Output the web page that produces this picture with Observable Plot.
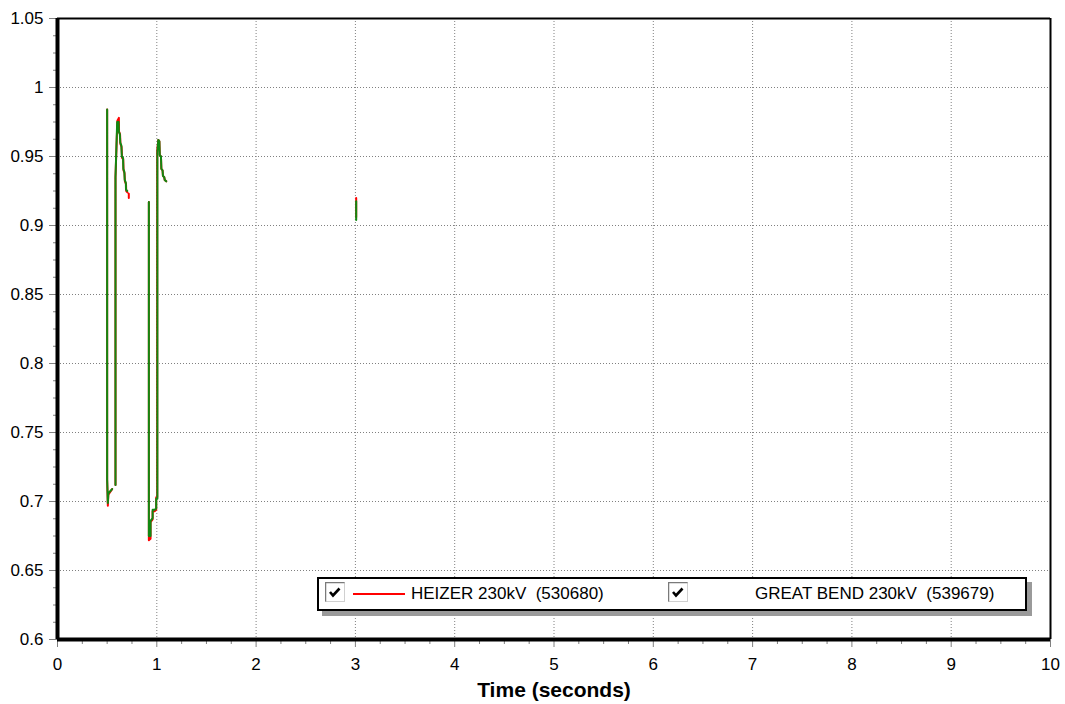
<!DOCTYPE html>
<html>
<head>
<meta charset="utf-8">
<script src="https://cdn.jsdelivr.net/npm/d3@7"></script>
<script src="https://cdn.jsdelivr.net/npm/@observablehq/plot@0.6"></script>
<style>
  body { margin: 0; background: #fff; font-family: "Liberation Sans", Arial, sans-serif; }
  #wrap { position: relative; width: 1065px; height: 704px; }
  #legend { position: absolute; left: 317px; top: 577px; width: 706px; height: 30px;
            border: 2px solid #000; background: #fff; box-shadow: 5px 5px 0 #9a9a9a; }
  .cb { position: absolute; top: 3px; width: 20px; height: 20px; }
  .sw { position: absolute; top: 14px; width: 52px; height: 2px; }
  .lt { position: absolute; top: 4px; font-size: 17px; line-height: 22px; white-space: pre; color: #000; }
</style>
</head>
<body>
<div id="wrap"></div>
<script>
// ---- tick definitions ----
const xTicks = [0, 1, 2, 3, 4, 5, 6, 7, 8, 9, 10];
const xTickLabels = ["0", "1", "2", "3", "4", "5", "6", "7", "8", "9", "10"];
const yTicks = [0.6, 0.65, 0.7, 0.75, 0.8, 0.85, 0.9, 0.95, 1, 1.05];
const yTickLabels = ["0.6", "0.65", "0.7", "0.75", "0.8", "0.85", "0.9", "0.95", "1", "1.05"];
const xMinorStep = 0.25;
const yMinorStep = 0.0125;

// ---- series ----
const seriesNames = ["HEIZER 230kV  (530680)", "GREAT BEND 230kV  (539679)"];
const seriesColors = ["#ff0000", "#118811"];
const xLabel = "Time (seconds)";

// HEIZER 230kV (red); NaN breaks the trace
const heizerTime = [
  0.500, 0.500, 0.507, 0.512, 0.550, 0.550,
  0.584, 0.584, 0.603, 0.618, 0.620, 0.630, 0.634, 0.645, 0.650, 0.662, 0.665, 0.675, 0.679, 0.690, 0.692, 0.704, 0.704,
  0.718, 0.718, 0.718,
  0.920, 0.920, 0.937, 0.937, 0.958, 0.958, 0.980, 0.994, 0.994, 1.004, 1.004, 1.015, 1.026, 1.030, 1.042, 1.046, 1.058, 1.062, 1.075, 1.080, 1.095, 1.095,
  3.008, 3.008
];
const heizerValue = [
  0.984, 0.716, 0.697, 0.705, 0.709, NaN,
  0.712, 0.935, 0.976, 0.978, 0.968, 0.966, 0.959, 0.957, 0.949, 0.948, 0.940, 0.938, 0.932, 0.930, 0.925, 0.924, NaN,
  0.923, 0.920, NaN,
  0.917, 0.672, 0.673, 0.685, 0.687, 0.693, 0.693, 0.694, 0.703, 0.703, 0.954, 0.962, 0.961, 0.951, 0.950, 0.941, 0.940, 0.936, 0.935, 0.933, 0.932, NaN,
  0.920, 0.906
];

// GREAT BEND 230kV (green)
const greatBendTime = [
  0.500, 0.500, 0.507, 0.512, 0.550, 0.550,
  0.584, 0.584, 0.601, 0.615, 0.618, 0.628, 0.632, 0.643, 0.648, 0.660, 0.663, 0.673, 0.677, 0.688, 0.690, 0.702, 0.702,
  0.920, 0.920, 0.937, 0.937, 0.958, 0.958, 0.980, 0.994, 0.994, 1.006, 1.006, 1.015, 1.026, 1.030, 1.042, 1.046, 1.058, 1.062, 1.075, 1.080, 1.095, 1.095,
  3.008, 3.008
];
const greatBendValue = [
  0.984, 0.716, 0.699, 0.706, 0.709, NaN,
  0.712, 0.935, 0.975, 0.975, 0.968, 0.966, 0.960, 0.958, 0.950, 0.949, 0.941, 0.939, 0.933, 0.931, 0.926, 0.925, NaN,
  0.917, 0.675, 0.675, 0.686, 0.688, 0.694, 0.694, 0.695, 0.702, 0.702, 0.953, 0.962, 0.961, 0.951, 0.950, 0.941, 0.940, 0.936, 0.935, 0.933, 0.932, NaN,
  0.9176, 0.904
];

// ---- build tables ----
const heizer = heizerTime.map((t, i) => ({ t, v: heizerValue[i] }));
const greatBend = greatBendTime.map((t, i) => ({ t, v: greatBendValue[i] }));

const xMinor = d3.range(0, 10 + 1e-9, xMinorStep).filter(d => Math.abs(d - Math.round(d)) > 1e-6);
const yMinor = d3.range(0.6, 1.05 + 1e-9, yMinorStep).filter(d => Math.abs(d * 20 - Math.round(d * 20)) > 1e-6);
const xGrid = xTicks.slice(1, -1);
const yGrid = yTicks.slice(1, -1);

const gridStyle = { stroke: "#808080", strokeWidth: 1, strokeDasharray: "1,2" };

const chart = Plot.plot({
  width: 1065,
  height: 704,
  marginLeft: 57,
  marginRight: 15,
  marginTop: 18,
  marginBottom: 65,
  x: { domain: [0, 10] },
  y: { domain: [0.6, 1.05] },
  style: { fontFamily: "'Liberation Sans', Arial, sans-serif", fontSize: "17px", color: "#000", background: "#fff" },
  marks: [
    Plot.ruleX(xGrid, { x: d => d, ...gridStyle }),
    Plot.ruleY(yGrid, { y: d => d, ...gridStyle }),
    // minor ticks
    Plot.axisX({ ticks: xMinor, tickSize: 5, stroke: "#808080", fill: "none", label: null }),
    Plot.axisY({ ticks: yMinor, tickSize: 4, stroke: "#808080", fill: "none", label: null }),
    // major ticks + labels
    Plot.axisX({ ticks: xTicks, tickSize: 8, tickPadding: 10, stroke: "#808080", fill: "#000", fontSize: 17,
                 tickFormat: d => xTickLabels[xTicks.indexOf(d)], label: null }),
    Plot.axisY({ ticks: yTicks, tickSize: 8, tickPadding: 6, stroke: "#808080", fill: "#000", fontSize: 17,
                 tickFormat: d => yTickLabels[yTicks.findIndex(v => Math.abs(v - d) < 1e-9)], label: null }),
    // data
    Plot.line(heizer, { x: "t", y: "v", stroke: seriesColors[0], strokeWidth: 2 }),
    Plot.line(greatBend, { x: "t", y: "v", stroke: seriesColors[1], strokeWidth: 2 }),
    // frame
    Plot.ruleY([1.05], { y: d => d, stroke: "#000", strokeWidth: 2 }),
    Plot.ruleX([10], { x: d => d, stroke: "#000", strokeWidth: 2 }),
    Plot.ruleX([0], { x: d => d, stroke: "#000", strokeWidth: 4 }),
    Plot.ruleY([0.6], { y: d => d, stroke: "#000", strokeWidth: 4 }),
    // x title
    Plot.text([xLabel], { text: d => d, frameAnchor: "bottom", lineAnchor: "middle", dy: 51,
                          fontWeight: "bold", fontSize: 21, fill: "#000" })
  ]
});

const wrap = document.getElementById("wrap");
wrap.appendChild(chart);

// ---- legend (inside plot area) ----
const checkSvg = `<svg width="20" height="20" viewBox="0 0 20 20">
  <rect x="0.5" y="0.5" width="19" height="19" fill="#fff" stroke="#d0d0d0"/>
  <path d="M0.5 19.5 V0.5 H19.5" fill="none" stroke="#7a7a7a" stroke-width="1.5"/>
  <polyline points="5,10 8,13.5 14.5,6.5" fill="none" stroke="#000" stroke-width="2.6"/>
</svg>`;
const legend = document.createElement("div");
legend.id = "legend";
const items = [
  { cb: 6, sw: 34, text: 92, name: seriesNames[0], color: seriesColors[0], swatch: true },
  { cb: 349, sw: 0, text: 436, name: seriesNames[1], color: seriesColors[1], swatch: false }
];
items.forEach(it => {
  const cb = document.createElement("div");
  cb.className = "cb"; cb.style.left = it.cb + "px"; cb.innerHTML = checkSvg;
  legend.appendChild(cb);
  if (it.swatch) {
    const sw = document.createElement("div");
    sw.className = "sw"; sw.style.left = it.sw + "px"; sw.style.background = it.color;
    legend.appendChild(sw);
  }
  const lt = document.createElement("div");
  lt.className = "lt"; lt.style.left = it.text + "px"; lt.textContent = it.name;
  legend.appendChild(lt);
});
wrap.appendChild(legend);
</script>
</body>
</html>
